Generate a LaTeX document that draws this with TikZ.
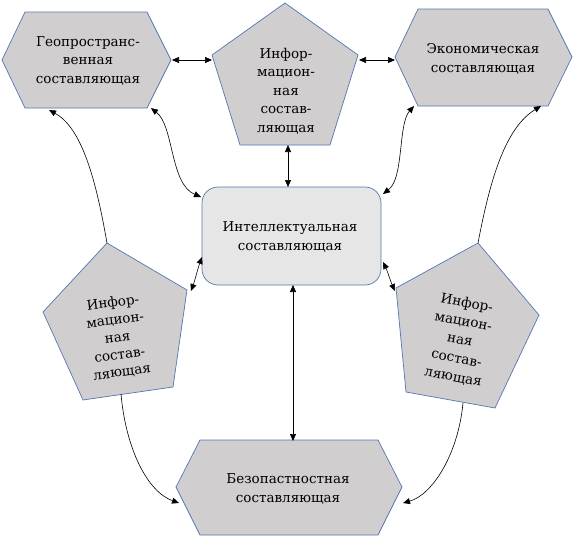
\documentclass[tikz,border=0pt]{standalone}
\usepackage{fontspec}
\setmainfont{DejaVu Serif}
\usetikzlibrary{arrows.meta}
\definecolor{edgeblue}{RGB}{84,118,178}
\definecolor{shapegrey}{RGB}{208,206,206}
\definecolor{centergrey}{RGB}{231,230,230}
\begin{document}
\begin{tikzpicture}[x=1pt,y=-1pt,
  shp/.style={draw=edgeblue, fill=shapegrey, line width=0.7pt, line join=miter},
  lbl/.style={align=center, font=\fontsize{13.5}{18.5}\selectfont, inner sep=0pt},
  conn/.style={line width=0.6pt, {Triangle[length=7pt,width=6pt]}-{Triangle[length=7pt,width=6pt]}},
  oneway/.style={line width=0.6pt, -{Triangle[length=7pt,width=6pt]}}]
\useasboundingbox (0,0) rectangle (575,538);
% shapes
\draw[shp] (2,60) -- (25,12) -- (147,12) -- (171,60) -- (147,108) -- (25,108) -- cycle;
\draw[shp] (285,3) -- (358,55) -- (330,145) -- (240,145) -- (212,55) -- cycle;
\draw[shp] (395,57) -- (418,9) -- (548,9) -- (572,57) -- (548,106) -- (418,106) -- cycle;
\draw[draw=edgeblue, fill=centergrey, line width=0.7pt, rounded corners=16pt] (202,187) rectangle (381,285);
\draw[shp] (107,243) -- (187,290) -- (173,387) -- (83,400) -- (43,312) -- cycle;
\draw[shp] (478,243) -- (539,315) -- (495,408) -- (406,392) -- (396,288) -- cycle;
\draw[shp] (176,487) -- (200,440) -- (378,440) -- (402,487) -- (378,535) -- (200,535) -- cycle;
% labels
\node[lbl] (geo) at (88,61) {Геопространс-\\венная\\составляющая};
\node[lbl] (infotop) at (286,91) {Инфор-\\мацион-\\ная\\состав-\\ляющая};
\node[lbl] (eco) at (483,59) {Экономическая\\составляющая};
\node[lbl] (intel) at (290,237) {Интеллектуальная\\составляющая};
\node[lbl, rotate=7.5, font=\fontsize{13.5}{17.5}\selectfont] (infoleft) at (117.5,337.5) {Инфор-\\мацион-\\ная\\состав-\\ляющая};
\node[lbl, rotate=-10.5, font=\fontsize{13.5}{18.8}\selectfont] (inforight) at (460,340) {Инфор-\\мацион-\\ная\\состав-\\ляющая};
\node[lbl] (bez) at (288,489) {Безопастностная\\составляющая};
% connector end points
\coordinate (geoR) at (172,60);
\coordinate (itL) at (212,60);
\coordinate (itR) at (359,60);
\coordinate (ecoL) at (395,60);
\coordinate (itB) at (288,145);
\coordinate (inT) at (288,187);
\coordinate (geoBR) at (151,108);
\coordinate (inTL) at (201,197);
\coordinate (ecoBL) at (414,106);
\coordinate (inTR) at (383,194);
\coordinate (ilR) at (191,291);
\coordinate (inL) at (202,257);
\coordinate (irL) at (395,291);
\coordinate (inR) at (383,262);
\coordinate (ilT) at (107,243);
\coordinate (geoB) at (49,110);
\coordinate (irT) at (478,243);
\coordinate (ecoB) at (541,106);
\coordinate (inB) at (293,285);
\coordinate (bezT) at (293,441);
\coordinate (ilB) at (121,394);
\coordinate (bezL) at (179,503);
\coordinate (irB) at (463,403);
\coordinate (bezR) at (403,503);
% connectors
\draw[conn] (geoR) -- (itL);
\draw[conn] (itR) -- (ecoL);
\draw[conn] (itB) -- (inT);
\draw[conn] (geoBR) .. controls (174,126) and (170,184) .. (inTL);
\draw[conn] (ecoBL) .. controls (398,124) and (404,178) .. (inTR);
\draw[conn] (ilR) .. controls (195,280) and (198,268) .. (inL);
\draw[conn] (irL) .. controls (390,280) and (387,270) .. (inR);
\draw[oneway] (ilT) .. controls (96,180) and (82,128) .. (geoB);
\draw[oneway] (irT) .. controls (490,180) and (505,128) .. (ecoB);
\draw[conn] (inB) -- (bezT);
\draw[oneway] (ilB) .. controls (126,450) and (148,492) .. (bezL);
\draw[oneway] (irB) .. controls (458,455) and (432,495) .. (bezR);
\end{tikzpicture}
\end{document}
